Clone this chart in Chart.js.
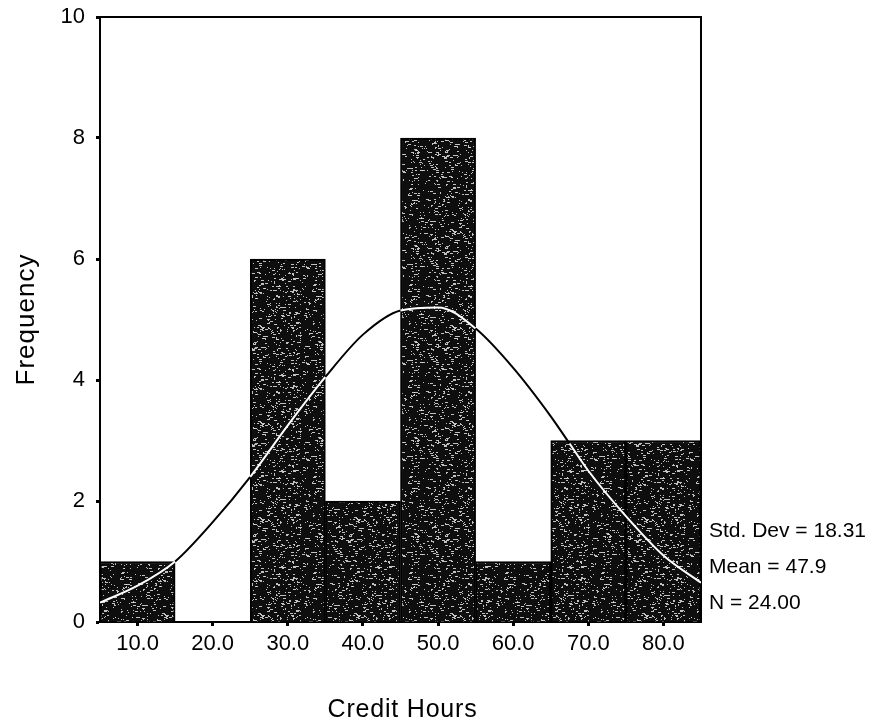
<!DOCTYPE html>
<html>
<head>
<meta charset="utf-8">
<script src="https://cdn.jsdelivr.net/npm/chart.js@4.4.1/dist/chart.umd.min.js"></script>
<style>
  html, body { margin: 0; padding: 0; background: #fff; }
</style>
</head>
<body>
<canvas id="histChart" width="873" height="724"></canvas>
<script>
// histogram bins (bin centres) and counts
const creditHours = [10, 20, 30, 40, 50, 60, 70, 80];
const frequency = [1, 0, 6, 2, 8, 1, 3, 3];

// fitted normal curve, read along the x axis
const curveHours = [5, 10, 15, 20, 25, 30, 35, 40, 45, 50, 55, 60, 65, 67.5, 70, 75, 80, 85];
const curveFreq = [0.32, 0.6, 1.0, 1.65, 2.4, 3.25, 4.05, 4.75, 5.15, 5.2, 4.85, 4.2, 3.4, 2.95, 2.5, 1.75, 1.1, 0.65];

const yTicks = [0, 2, 4, 6, 8, 10];
const statLines = ['Std. Dev = 18.31', 'Mean = 47.9', 'N = 24.00'];
const xTitle = 'Credit Hours';
const yTitle = 'Frequency';

const FONT = '"Liberation Sans", Arial, sans-serif';
const canvas = document.getElementById('histChart');
const ctx2d = canvas.getContext('2d');

// grainy dark fill for the bars: short light dashes on near-black
function speckle() {
    const w = 96, h = 96;
    const c = document.createElement('canvas');
    c.width = w; c.height = h;
    const g = c.getContext('2d');
    g.fillStyle = '#0e0e0e';
    g.fillRect(0, 0, w, h);
    g.fillStyle = 'rgba(225,225,225,0.85)';
    for (let y = 0; y < h; y++) {
        for (let x = 0; x < w; x++) {
            const k = ((x * 73856093) ^ (y * 19349663) ^ (x * y * 83492791)) >>> 0;
            if (k % 100 < 9) g.fillRect(x, y, 1 + (k >> 8) % 3, 1);
        }
    }
    return ctx2d.createPattern(c, 'repeat');
}

function countAt(h) {
    const i = creditHours.indexOf(Math.round(h / 10) * 10);
    return i < 0 ? 0 : frequency[i];
}

// no extra room for half-height tick labels at the axis ends
function noEdgePadding(s) {
    s.paddingTop = 0;
    s.paddingBottom = 0;
    s.paddingLeft = 0;
    s.paddingRight = 0;
}

const frame = {
    id: 'frame',
    beforeDatasetsDraw(chart) {
        const { ctx, chartArea: a } = chart;
        ctx.save();
        ctx.strokeStyle = '#000';
        ctx.lineWidth = 2;
        ctx.beginPath();
        ctx.moveTo(a.left, a.top);
        ctx.lineTo(a.right, a.top);
        ctx.lineTo(a.right, a.bottom);
        ctx.stroke();
        ctx.restore();
    },
    afterDatasetDraw(chart, args) {
        if (args.index !== 0) return;
        const { ctx } = chart;
        ctx.save();
        ctx.strokeStyle = 'rgba(255,255,255,0.85)';
        ctx.lineWidth = 1.5;
        args.meta.data.forEach(bar => {
            if (bar.base - bar.y < 8) return;
            ctx.beginPath();
            ctx.moveTo(bar.x - bar.width / 2 + 3, bar.y + 3.5);
            ctx.lineTo(bar.x + bar.width / 2 - 3, bar.y + 3.5);
            ctx.stroke();
        });
        ctx.restore();
    }
};

const annotations = {
    id: 'annotations',
    afterDraw(chart) {
        const { ctx, chartArea: a } = chart;
        ctx.save();
        ctx.fillStyle = '#000';
        ctx.textBaseline = 'middle';
        ctx.textAlign = 'left';
        ctx.font = '21px ' + FONT;
        statLines.forEach((t, i) => ctx.fillText(t, a.right + 8, a.bottom - 91 + i * 36));

        ctx.textAlign = 'center';
        ctx.font = '25px ' + FONT;
        ctx.letterSpacing = '0.8px';
        ctx.fillText(xTitle, (a.left + a.right) / 2 + 2, 710);

        ctx.letterSpacing = '1px';
        ctx.font = '26px ' + FONT;
        ctx.translate(27, (a.top + a.bottom) / 2);
        ctx.rotate(-Math.PI / 2);
        ctx.fillText(yTitle, 0, 0);
        ctx.restore();
    }
};

const histChart = new Chart(canvas, {
    type: 'bar',
    data: {
        datasets: [{
            type: 'line',
            data: curveHours.map((h, i) => ({ x: h, y: curveFreq[i] })),
            borderWidth: 2,
            borderColor: '#000',
            pointRadius: 0,
            cubicInterpolationMode: 'monotone',
            segment: {
                borderColor: c => {
                    const xm = (c.p0.parsed.x + c.p1.parsed.x) / 2;
                    const ym = (c.p0.parsed.y + c.p1.parsed.y) / 2;
                    return ym < countAt(xm) ? '#fff' : '#000';
                }
            },
            order: 0
        }, {
            data: creditHours.map((h, i) => ({ x: h, y: frequency[i] })),
            backgroundColor: speckle(),
            borderColor: '#000',
            borderWidth: 2,
            barPercentage: 1,
            categoryPercentage: 1,
            order: 1
        }]
    },
    options: {
        responsive: false,
        animation: false,
        layout: { padding: { top: 17, right: 172, left: 0, bottom: 0 } },
        plugins: { legend: { display: false }, tooltip: { enabled: false } },
        scales: {
            x: {
                type: 'linear',
                min: 5,
                max: 85,
                offset: false,
                afterBuildTicks: s => { s.ticks = creditHours.map(v => ({ value: v })); },
                afterFit: s => { s.height = 102; noEdgePadding(s); },
                grid: { offset: false, drawOnChartArea: false, tickLength: 4, tickWidth: 3, tickColor: '#000' },
                border: { color: '#000', width: 2 },
                ticks: {
                    color: '#000',
                    font: { family: FONT, size: 22 },
                    padding: 5,
                    maxRotation: 0,
                    autoSkip: false,
                    callback: v => v.toFixed(1)
                }
            },
            y: {
                min: 0,
                max: 10,
                afterBuildTicks: s => { s.ticks = yTicks.map(v => ({ value: v })); },
                afterFit: s => { s.width = 100; noEdgePadding(s); },
                grid: { drawOnChartArea: false, tickLength: 4, tickWidth: 3, tickColor: '#000' },
                border: { color: '#000', width: 2 },
                ticks: { color: '#000', font: { family: FONT, size: 22 }, padding: 11 }
            }
        }
    },
    plugins: [frame, annotations]
});
</script>
</body>
</html>
